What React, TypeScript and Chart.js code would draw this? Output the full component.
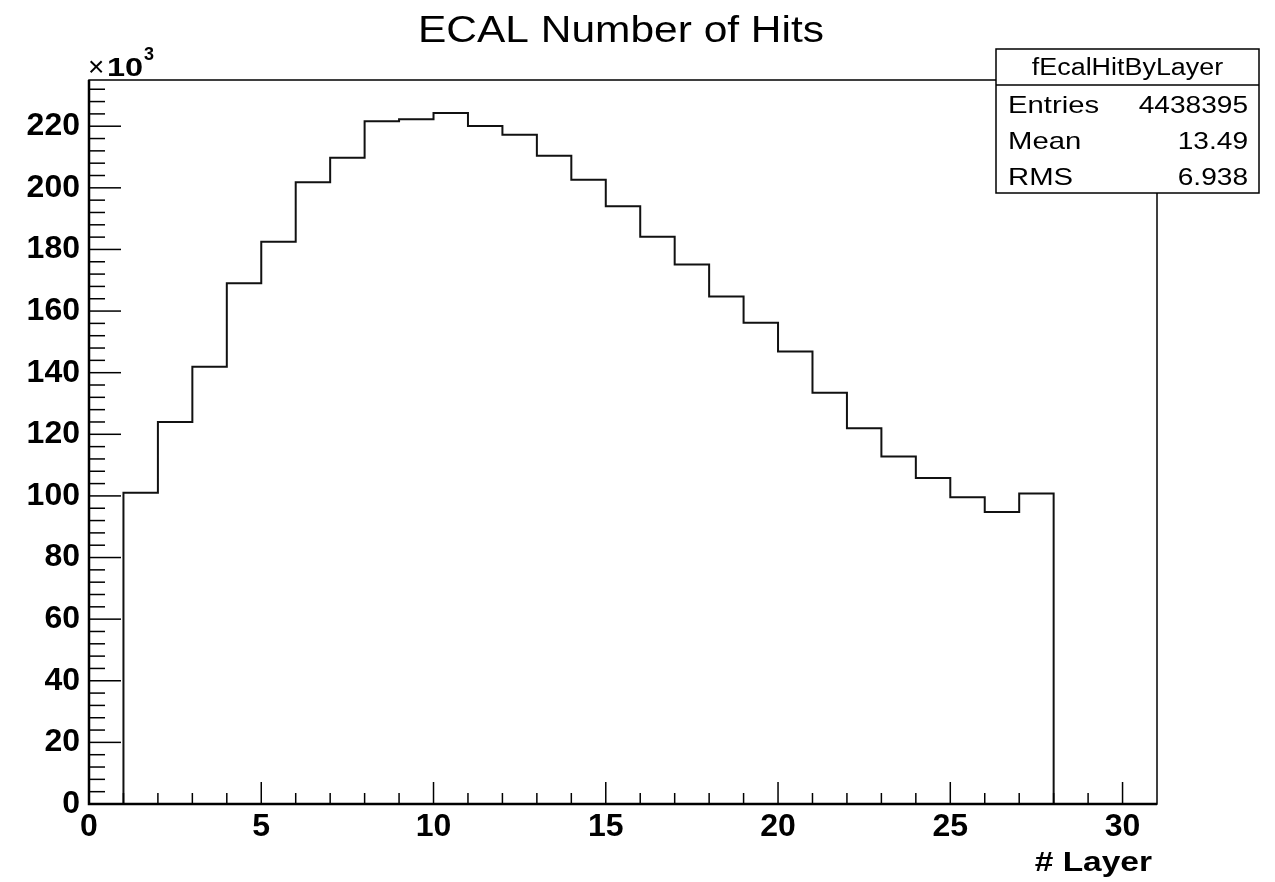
import React, { useEffect, useRef } from "react";
import { Chart, registerables } from "chart.js";

Chart.register(...registerables);

// ---- data ----
const layerLowEdges = [1, 2, 3, 4, 5, 6, 7, 8, 9, 10, 11, 12, 13, 14, 15, 16, 17, 18, 19, 20, 21, 22, 23, 24, 25, 26, 27];
// hits per layer, in units of 10^3
const hitsThousands = [
  101.0, 124.0, 141.9, 169.0, 182.5, 201.8, 209.8, 221.6, 222.3, 224.3,
  220.1, 217.2, 210.4, 202.6, 194.0, 184.1, 175.1, 164.7, 156.2, 146.9,
  133.5, 122.0, 112.8, 105.8, 99.6, 94.8, 100.8,
];
const binWidth = 1;
const xTickValues = [0, 5, 10, 15, 20, 25, 30];
const yTickValues = [0, 20, 40, 60, 80, 100, 120, 140, 160, 180, 200, 220];
const xRange = [0, 31];
const yRange = [0, 235];
const chartTitle = "ECAL Number of Hits";
const xAxisTitle = "# Layer";
const statsTitle = "fEcalHitByLayer";
const statsLabels = ["Entries", "Mean", "RMS"];
const statsValues = ["4438395", "13.49", "6.938"];

const FONT = '"Liberation Sans", Arial, Helvetica, sans-serif';

function drawText(
  ctx: CanvasRenderingContext2D,
  text: string,
  x: number,
  baseline: number,
  size: number,
  weight: string,
  align: "left" | "right" | "center",
  sx: number
) {
  ctx.save();
  ctx.font = `${weight} ${size}px ${FONT}`;
  const w = ctx.measureText(text).width * sx;
  const left = align === "left" ? x : align === "right" ? x - w : x - w / 2;
  ctx.translate(left, baseline);
  ctx.scale(sx, 1);
  ctx.textAlign = "left";
  ctx.textBaseline = "alphabetic";
  ctx.fillStyle = "#000";
  ctx.fillText(text, 0, 0);
  ctx.restore();
}

export default function App() {
  const ref = useRef<HTMLCanvasElement>(null);

  useEffect(() => {
    const canvas = ref.current;
    if (!canvas) return;
    const last = layerLowEdges.length - 1;
    const points = [
      { x: layerLowEdges[0], y: 0 },
      ...layerLowEdges.map((e, i) => ({ x: e, y: hitsThousands[i] })),
      { x: layerLowEdges[last] + binWidth, y: 0 },
    ];

    const decor = {
      id: "rootDecor",
      afterDatasetsDraw(chart: any) {
        const { ctx, chartArea: a, scales } = chart;
        const xs = scales.x;
        const ys = scales.y;
        ctx.save();
        ctx.strokeStyle = "#000";
        ctx.lineWidth = 1.5;
        // y ticks (major every 20, minor every 4)
        for (let v = yRange[0]; v < yRange[1]; v += 4) {
          const py = ys.getPixelForValue(v);
          const len = v % 20 === 0 ? 32 : 16;
          ctx.beginPath();
          ctx.moveTo(a.left, py);
          ctx.lineTo(a.left + len, py);
          ctx.stroke();
        }
        // x ticks (major every 5, minor every 1)
        for (let v = xRange[0]; v < xRange[1]; v += 1) {
          const px = xs.getPixelForValue(v);
          const len = v % 5 === 0 ? 22 : 11;
          ctx.beginPath();
          ctx.moveTo(px, a.bottom);
          ctx.lineTo(px, a.bottom - len);
          ctx.stroke();
        }
        // frame
        ctx.lineWidth = 1.5;
        ctx.strokeRect(a.left, a.top, a.right - a.left, a.bottom - a.top);
        ctx.lineWidth = 2.5;
        ctx.beginPath();
        ctx.moveTo(a.left, a.top);
        ctx.lineTo(a.left, a.bottom);
        ctx.lineTo(a.right, a.bottom);
        ctx.stroke();
        ctx.restore();
      },
      afterDraw(chart: any) {
        const { ctx, chartArea: a } = chart;
        // title
        drawText(ctx, chartTitle, 621, 42, 36, "normal", "center", 1.18);
        // x10^3 exponent
        drawText(ctx, "\u00d7", a.left - 1, 76, 28, "normal", "left", 1.0);
        drawText(ctx, "10", a.left + 18, 76, 25, "bold", "left", 1.3);
        drawText(ctx, "3", a.left + 55, 60, 18, "bold", "left", 1.0);
        // x axis title
        drawText(ctx, xAxisTitle, a.right - 5, 871, 27, "bold", "right", 1.24);
        // stats box
        const bx = 996, by = 49, bw = 263, bh = 144;
        ctx.save();
        ctx.fillStyle = "#fff";
        ctx.fillRect(bx, by, bw, bh);
        ctx.strokeStyle = "#000";
        ctx.lineWidth = 1.5;
        ctx.strokeRect(bx, by, bw, bh);
        ctx.beginPath();
        ctx.moveTo(bx, by + 36);
        ctx.lineTo(bx + bw, by + 36);
        ctx.stroke();
        ctx.restore();
        drawText(ctx, statsTitle, bx + bw / 2, by + 26, 23, "normal", "center", 1.17);
        statsLabels.forEach((lab, i) => {
          const base = by + 64 + i * 36;
          drawText(ctx, lab, bx + 12, base, 24, "normal", "left", 1.22);
          drawText(ctx, statsValues[i], bx + bw - 11, base, 24, "normal", "right", 1.17);
        });
      },
    };

    const chart = new Chart(canvas, {
      type: "line",
      data: {
        datasets: [
          {
            data: points,
            stepped: "before",
            borderColor: "#111",
            borderWidth: 2,
            pointRadius: 0,
            fill: false,
          },
        ],
      },
      options: {
        responsive: false,
        animation: false,
        devicePixelRatio: 1,
        layout: { padding: { top: 80, right: 118, left: 0, bottom: 0 } },
        plugins: {
          legend: { display: false },
          tooltip: { enabled: false },
          title: { display: false },
        },
        scales: {
          x: {
            type: "linear",
            min: xRange[0],
            max: xRange[1],
            grid: { display: false, drawTicks: false },
            border: { display: false },
            afterBuildTicks: (s: any) => {
              s.ticks = xTickValues.map((v) => ({ value: v }));
            },
            afterFit: (s: any) => {
              s.height = 78;
            },
            ticks: {
              autoSkip: false,
              maxRotation: 0,
              padding: 4,
              color: "#000",
              font: { family: FONT, size: 32, weight: "bold" },
              callback: (v: any) => String(v),
            },
          },
          y: {
            type: "linear",
            min: yRange[0],
            max: yRange[1],
            grid: { display: false, drawTicks: false },
            border: { display: false },
            afterBuildTicks: (s: any) => {
              s.ticks = yTickValues.map((v) => ({ value: v }));
            },
            afterFit: (s: any) => {
              s.width = 89;
            },
            ticks: {
              autoSkip: false,
              padding: 9,
              color: "#000",
              font: { family: FONT, size: 32, weight: "bold" },
              callback: (v: any) => String(v),
            },
          },
        },
      },
      plugins: [decor],
    } as any);

    return () => chart.destroy();
  }, []);

  return (
    <div style={{ position: "absolute", left: 0, top: 0, width: 1275, height: 882, background: "#fff" }}>
      <canvas ref={ref} width={1275} height={882} style={{ display: "block" }} />
    </div>
  );
}
